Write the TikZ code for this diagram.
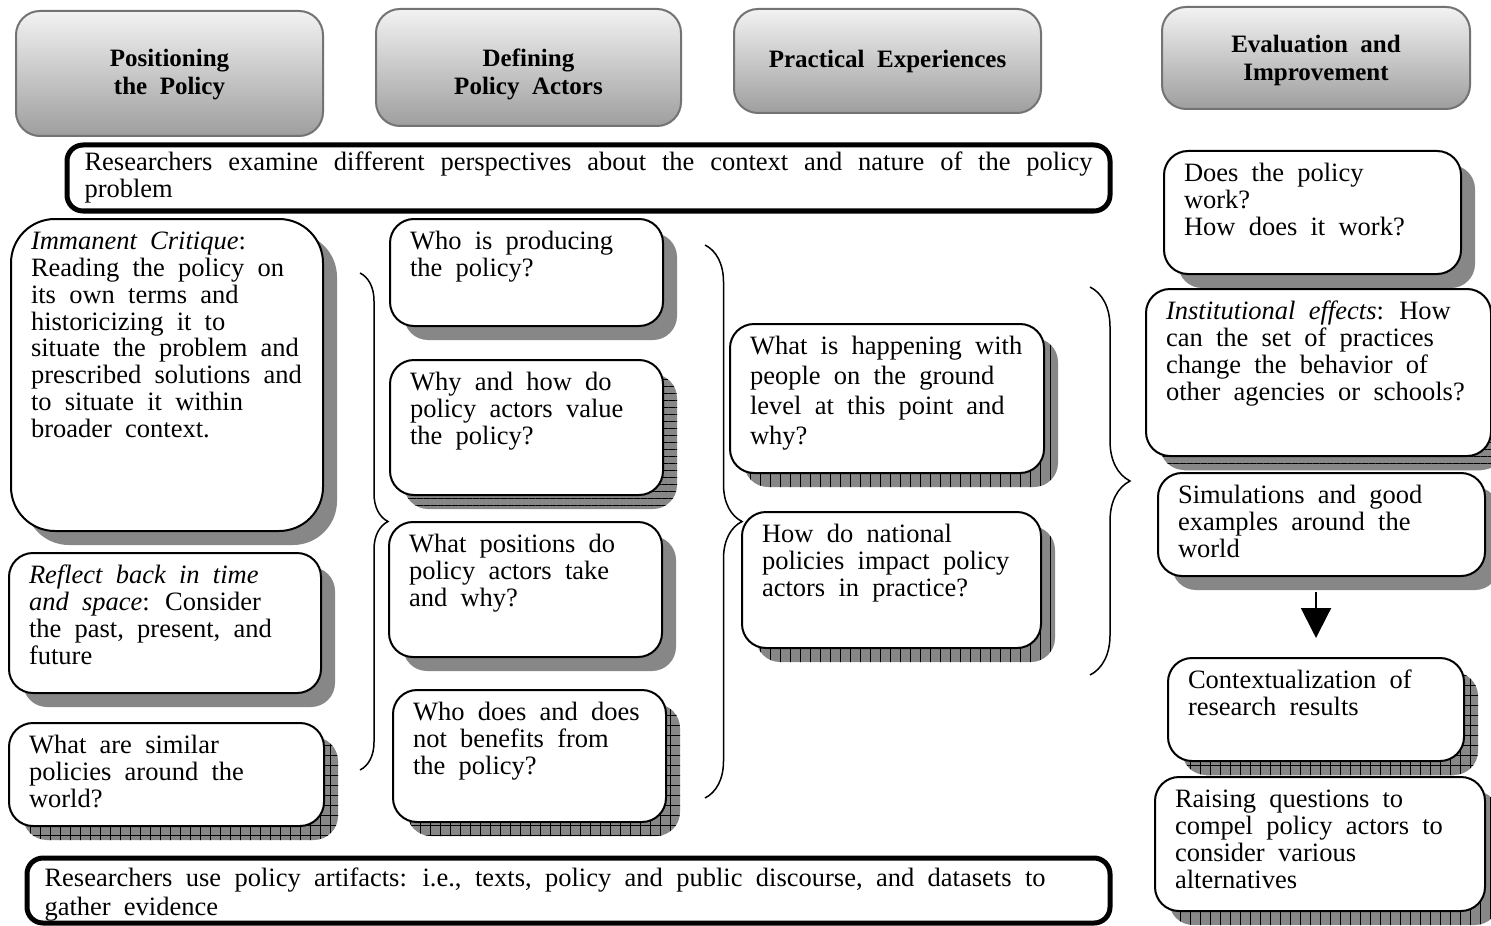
\documentclass[tikz,border=0pt]{standalone}
\usepackage{fontspec}
\setmainfont{Liberation Serif}
\usetikzlibrary{patterns.meta,decorations.pathreplacing,arrows.meta}
\newcommand\qfont{\fontsize{13.25pt}{13.4pt}\selectfont\spaceskip=0.5em plus 0.2em minus 0.1em\relax}
\newcommand\bfont{\fontsize{13.25pt}{13.4pt}\selectfont\spaceskip=0.5em plus 1em minus 0.25em\relax}
\newcommand\hfont{\fontsize{12.5pt}{14pt}\selectfont\bfseries\spaceskip=0.5em\relax}
\newcommand\qbox[8]{%
  \fill[shadowc, rounded corners=#7] (#2+15,#3+15) rectangle ++(#4,#5);
  \path[rounded corners=#7, #6] (#2+15,#3+15) rectangle ++(#4,#5);
  \node[qbox, rounded corners=#7] (#1) at (#2,#3) {\parbox[t][\dimexpr #5pt/2-12pt\relax][t]{\dimexpr #4pt/2-20pt\relax}{\raggedright\strut #8}};
}
\newcommand\htext[2]{\raisebox{#1}[\height][\depth]{\begin{tabular}{@{}c@{}}#2\end{tabular}}}
\begin{document}
\begin{tikzpicture}[x=0.5pt,y=-0.5pt,
  shadowc/.style={fill=black!47},
  shpn/.style={},
  shph/.style={pattern={Lines[angle=0,distance=3.5pt,line width=0.4pt]},pattern color=black},
  shpv/.style={pattern={Lines[angle=90,distance=5pt,line width=0.4pt]},pattern color=black},
  shpg/.style={pattern={Lines[angle=0,distance=5pt,line width=0.4pt]},pattern color=black,
     postaction={pattern={Lines[angle=90,distance=5pt,line width=0.4pt]},pattern color=black}},
  qbox/.style={draw, line width=1pt, fill=white, inner xsep=10pt, inner ysep=6pt, anchor=north west, font=\qfont},
  banner/.style={draw, line width=2.5pt, rounded corners=8pt, fill=white, inner xsep=8.75pt, anchor=north west, font=\bfont},
  hdr/.style={draw=black!55, line width=1pt, rounded corners=12pt, top color=black!5, bottom color=black!38,
     anchor=north west, align=center, font=\hfont, inner sep=0pt},
  brc/.style={decorate, line width=0.75pt},
  arr/.style={line width=1pt, -{Triangle[width=15pt,length=15pt]}}
]
\fill[white] (0,0) rectangle (1491,925);
\useasboundingbox (0,0) rectangle (1491,925);

% headers
\node[hdr, minimum width=153.5pt, minimum height=62.5pt] (h1) at (15,10) {\htext{-0.75pt}{Positioning\\the Policy}};
\node[hdr, minimum width=152.5pt, minimum height=58.5pt] (h2) at (375,8) {\htext{-3.5pt}{Defining\\Policy Actors}};
\node[hdr, minimum width=153.5pt, minimum height=52pt] (h3) at (733,8) {Practical Experiences};
\node[hdr, minimum width=154pt, minimum height=51pt] (h4) at (1161,6) {\htext{-1.25pt}{Evaluation and\\Improvement}};

% banners
\node[banner, inner ysep=3.4pt] (topban) at (64.5,142.5) {\parbox[t][26.2pt][t]{504pt}{\strut Researchers examine different perspectives about the context and nature of the policy\linebreak problem}};
\node[banner, inner ysep=4.9pt] (botban) at (24.5,855.5) {\parbox[t][22.7pt][t]{524pt}{\parbox[t]{500.5pt}{\baselineskip=13pt\strut Researchers use policy artifacts: i.e., texts, policy and public discourse, and datasets to\linebreak gather evidence}}};

% braces
\coordinate (b1t) at (360,273);
\coordinate (b1b) at (360,770);
\coordinate (b2t) at (705,245);
\coordinate (b2b) at (705,798);
\coordinate (b3t) at (1090,287);
\coordinate (b3b) at (1090,675);
\draw[brc, decoration={brace,amplitude=14pt}] (b1t) -- (b1b);
\draw[brc, decoration={brace,amplitude=18.5pt}] (b2t) -- (b2b);
\draw[brc, decoration={brace,amplitude=20pt}] (b3t) -- (b3b);

% column 1
\qbox{A}{10}{218}{312}{312}{}{22pt}{\textit{Immanent Critique}:\\Reading the policy on\\its own terms and\\historicizing it to\\situate the problem and\\prescribed solutions and\\to situate it within\\broader context.}
\qbox{B}{8}{552}{312}{140}{}{12pt}{\textit{Reflect back in time}\\\textit{and space}: Consider\\the past, present, and\\future}
\qbox{C}{8}{722}{315}{103}{shpg}{12pt}{What are similar\\policies around the\\world?}
% column 2
\qbox{D}{389}{218}{273}{107}{}{12pt}{Who is producing\\the policy?}
\qbox{E}{389}{359}{273}{135}{shph}{12pt}{Why and how do\\policy actors value\\the policy?}
\qbox{F}{388}{521}{273}{135}{}{12pt}{What positions do\\policy actors take\\and why?}
\qbox{G}{392}{689}{273}{132}{shpg}{12pt}{Who does and does\\not benefits from\\the policy?}
% column 3
\qbox{H}{729}{323}{314}{149}{shpv}{12pt}{\baselineskip=15pt What is happening with\\people on the ground\\level at this point and\\why?}
\qbox{I}{741}{511}{299}{136}{shpv}{12pt}{How do national\\policies impact policy\\actors in practice?}
% column 4
\qbox{J}{1163}{150}{297}{123}{}{12pt}{Does the policy\\work?\\How does it work?}
\qbox{K}{1145}{288}{345}{167}{shph}{12pt}{\textit{Institutional effects}: How\\can the set of practices\\change the behavior of\\other agencies or schools?}
\qbox{L}{1157}{472}{327}{103}{}{12pt}{Simulations and good\\examples around the\\world}
\qbox{M}{1167}{657}{296}{103}{shpg}{12pt}{Contextualization of\\research results}
\qbox{N}{1154}{776}{330}{134}{shpv}{12pt}{Raising questions to\\compel policy actors to\\consider various\\alternatives}

\draw[arr, shorten <=7.5pt, shorten >=9.5pt] (L.south -| M.north) -- (M.north);
\end{tikzpicture}
\end{document}
